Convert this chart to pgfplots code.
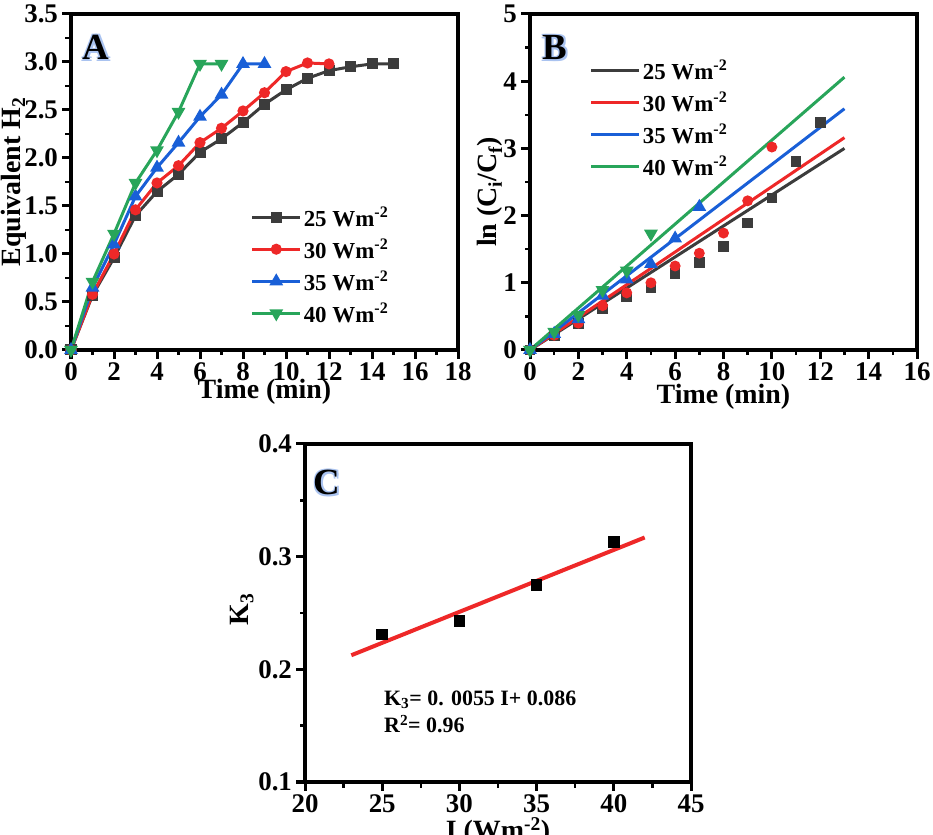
\documentclass[border=0pt]{standalone}
\usepackage{fontspec}
\setmainfont{Liberation Serif}
\usepackage{pgfplots}
\pgfplotsset{compat=1.18}
\definecolor{cblk}{RGB}{60,60,60}
\definecolor{cred}{RGB}{238,40,40}
\definecolor{cblu}{RGB}{25,95,215}
\definecolor{cgrn}{RGB}{40,165,90}
\definecolor{lblue}{RGB}{170,195,240}
\newcommand{\plf}{\fontsize{37}{37}\selectfont\bfseries}
\newcommand{\plab}[3]{%
  \node[text=lblue,font=\plf,xshift=-1.6bp,yshift=1.4bp] at (rel axis cs:#1,#2) {#3};
  \node[text=lblue,font=\plf,xshift=-1.6bp,yshift=-1.4bp] at (rel axis cs:#1,#2) {#3};
  \node[text=lblue,font=\plf,xshift=1.6bp,yshift=1.4bp] at (rel axis cs:#1,#2) {#3};
  \node[text=lblue,font=\plf,xshift=1.6bp,yshift=-1.4bp] at (rel axis cs:#1,#2) {#3};
  \node[text=black,font=\plf] at (rel axis cs:#1,#2) {#3};
}
% hand-drawn tick marks (axis decoration)
\newcommand{\xmaj}[2]{\pgfplotsinvokeforeach{#2}{\draw[black,line width=3bp] (axis cs:##1,#1) -- ++(0bp,-9bp);}}
\newcommand{\xmin}[2]{\pgfplotsinvokeforeach{#2}{\draw[black,line width=2.5bp] (axis cs:##1,#1) -- ++(0bp,-5.5bp);}}
\newcommand{\ymaj}[2]{\pgfplotsinvokeforeach{#2}{\draw[black,line width=3bp] (axis cs:#1,##1) -- ++(-9bp,0bp);}}
\newcommand{\ymin}[2]{\pgfplotsinvokeforeach{#2}{\draw[black,line width=2.5bp] (axis cs:#1,##1) -- ++(-5.5bp,0bp);}}
\pgfplotsset{
  every axis/.append style={line width=3.5bp},
  every tick/.append style={line width=3bp, black},
  every minor tick/.append style={line width=2.5bp, black},
  myaxis/.style={
    scale only axis, clip=false,
    major tick length=8bp,
    minor tick length=5bp,
    tick align=outside,
    xtick pos=left, ytick pos=left,
    /pgf/number format/assume math mode=true,
    tick label style={font=\fontsize{27}{27}\selectfont\bfseries},
    label style={font=\fontsize{28}{28}\selectfont\bfseries},
    minor x tick num=1, minor y tick num=1,
    legend image code/.code={\draw[mark repeat=2,mark phase=2,#1] plot coordinates {(0bp,0bp) (24bp,0bp) (48bp,0bp)};},
  },
  pl/.style={line width=3bp, mark size=4bp, mark options={solid}},
}
\begin{document}
\begin{tikzpicture}
\useasboundingbox (0,0) rectangle (933bp,835bp);
% ---------------- Panel A
\begin{axis}[myaxis,
  at={(71bp,485bp)}, anchor=south west,
  width=387bp, height=336bp,
  xmin=0, xmax=18, ymin=0, ymax=3.5,
  xtick={0,2,...,18}, ytick={0,0.5,...,3.5},
  yticklabel style={/pgf/number format/.cd, fixed, fixed zerofill, precision=1},
  xlabel={Time (min)}, ylabel={Equivalent H\textsubscript{2}},
  xlabel style={at={(axis description cs:0.5,-0.125)}, anchor=center},
  ylabel style={at={(axis description cs:-0.147,0.5)}, anchor=center},
  legend style={at={(rel axis cs:0.46,0.438)}, anchor=north west, draw=none, fill=none,
    font=\fontsize{23}{23}\selectfont\bfseries, row sep=7bp, inner sep=0pt},
]
\addplot[pl, cblk, mark=square*] coordinates {(0,0)(1,0.57)(2,0.96)(3,1.40)(4,1.65)(5,1.83)(6,2.06)(7,2.20)(8,2.37)(9,2.56)(10,2.71)(11,2.83)(12,2.91)(13,2.95)(14,2.98)(15,2.98)};
\addlegendentry{25 Wm\textsuperscript{-2}}
\addplot[pl, cred, mark=*] coordinates {(0,0)(1,0.58)(2,1.00)(3,1.46)(4,1.74)(5,1.92)(6,2.16)(7,2.31)(8,2.49)(9,2.68)(10,2.90)(11,2.99)(12,2.98)};
\addlegendentry{30 Wm\textsuperscript{-2}}
\addplot[pl, cblu, mark=triangle*, mark size=5bp] coordinates {(0,0)(1,0.65)(2,1.10)(3,1.60)(4,1.90)(5,2.16)(6,2.43)(7,2.66)(8,2.98)(9,2.98)};
\addlegendentry{35 Wm\textsuperscript{-2}}
\addplot[pl, cgrn, mark=triangle*, mark size=5bp, mark options={rotate=180}] coordinates {(0,0)(1,0.71)(2,1.21)(3,1.74)(4,2.08)(5,2.48)(6,2.98)(7,2.98)};
\addlegendentry{40 Wm\textsuperscript{-2}}
\xmaj{0}{0,2,4,6,8,10,12,14,16,18}
\xmin{0}{1,3,5,7,9,11,13,15,17}
\ymaj{0}{0,0.5,1,1.5,2,2.5,3,3.5}
\ymin{0}{0.25,0.75,1.25,1.75,2.25,2.75,3.25}
\plab{0.065}{0.90}{A}
\end{axis}
% ---------------- Panel B
\begin{axis}[myaxis,
  at={(530bp,485bp)}, anchor=south west,
  width=387bp, height=336bp,
  xmin=0, xmax=16, ymin=0, ymax=5,
  xtick={0,2,...,16}, ytick={0,1,...,5},
  xlabel={Time (min)}, ylabel={ln (C\textsubscript{i}/C\textsubscript{f})},
  xlabel style={at={(axis description cs:0.5,-0.14)}, anchor=center},
  ylabel style={at={(axis description cs:-0.103,0.47)}, anchor=center},
  legend style={at={(rel axis cs:0.15,0.875)}, anchor=north west, draw=none, fill=none,
    font=\fontsize{23}{23}\selectfont\bfseries, row sep=7bp, inner sep=0pt},
]
\addplot[cblk, line width=3bp] coordinates {(0,0)(13,3.00)};
\addlegendentry{25 Wm\textsuperscript{-2}}
\addplot[cred, line width=3bp] coordinates {(0,0)(13,3.16)};
\addlegendentry{30 Wm\textsuperscript{-2}}
\addplot[cblu, line width=3bp] coordinates {(0,0)(13,3.59)};
\addlegendentry{35 Wm\textsuperscript{-2}}
\addplot[cgrn, line width=3bp] coordinates {(0,0)(13,4.06)};
\addlegendentry{40 Wm\textsuperscript{-2}}
\addplot[only marks, cblk, mark=square*, mark size=3.6bp, forget plot] coordinates {(0,0)(1,0.21)(2,0.39)(3,0.61)(4,0.79)(5,0.93)(6,1.14)(7,1.30)(8,1.54)(9,1.89)(10,2.26)(11,2.81)(12,3.39)};
\addplot[only marks, cred, mark=*, mark size=3.6bp, forget plot] coordinates {(0,0)(1,0.22)(2,0.40)(3,0.66)(4,0.85)(5,1.00)(6,1.25)(7,1.44)(8,1.74)(9,2.22)(10,3.02)};
\addplot[only marks, cblu, mark=triangle*, mark size=4.5bp, forget plot] coordinates {(0,0)(1,0.24)(2,0.46)(3,0.81)(4,1.05)(5,1.28)(6,1.66)(7,2.13)};
\addplot[only marks, cgrn, mark=triangle*, mark size=4.5bp, mark options={rotate=180}, forget plot] coordinates {(0,0)(1,0.27)(2,0.52)(3,0.89)(4,1.18)(5,1.73)};
\xmaj{0}{0,2,4,6,8,10,12,14,16}
\xmin{0}{1,3,5,7,9,11,13,15}
\ymaj{0}{0,1,2,3,4,5}
\ymin{0}{0.5,1.5,2.5,3.5,4.5}
\plab{0.065}{0.90}{B}
\end{axis}
% ---------------- Panel C
\begin{axis}[myaxis,
  at={(305bp,53bp)}, anchor=south west,
  width=386bp, height=338bp,
  xmin=20, xmax=45, ymin=0.1, ymax=0.4,
  xtick={20,25,...,45}, ytick={0.1,0.2,0.3,0.4},
  yticklabel style={/pgf/number format/.cd, fixed, fixed zerofill, precision=1},
  xlabel={I (Wm\textsuperscript{-2})}, ylabel={K\textsubscript{3}},
  xlabel style={at={(axis description cs:0.5,-0.145)}, anchor=center},
  ylabel style={at={(axis description cs:-0.163,0.51)}, anchor=center},
]
\addplot[cred, line width=4bp] coordinates {(23,0.2125)(42,0.317)};
\addplot[only marks, black, mark=square*, mark size=4bp] coordinates {(25,0.231)(30,0.243)(35,0.275)(40,0.313)};
\xmaj{0.1}{20,25,30,35,40,45}
\xmin{0.1}{22.5,27.5,32.5,37.5,42.5}
\ymaj{20}{0.1,0.2,0.3,0.4}
\ymin{20}{0.15,0.25,0.35}
\node[anchor=west, align=left, font=\fontsize{22}{27}\selectfont\bfseries] at (axis cs:24.8,0.162) {K\textsubscript{3}= 0. 0055 I+ 0.086\\R\textsuperscript{2}= 0.96};
\plab{0.057}{0.885}{C}
\end{axis}
\end{tikzpicture}
\end{document}
